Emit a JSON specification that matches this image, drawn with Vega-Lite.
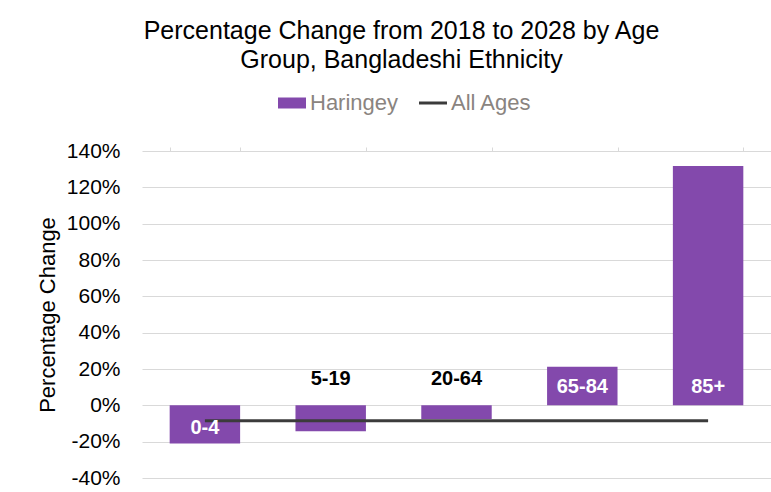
{
  "$schema": "https://vega.github.io/schema/vega-lite/v6.json",
  "width": 629,
  "height": 327,
  "autosize": {"type": "none"},
  "padding": {"left": 142, "top": 151, "right": 0, "bottom": 14},
  "background": "white",
  "config": {"view": {"stroke": null}, "font": "Liberation Sans"},
  "title": {
    "text": ["Percentage Change from 2018 to 2028 by Age", "Group, Bangladeshi Ethnicity"],
    "fontSize": 25,
    "fontWeight": "normal",
    "color": "#000000",
    "font": "Liberation Sans",
    "anchor": "middle",
    "dx": -55,
    "offset": 19,
    "lineHeight": 29
  },
  "data": {
    "values": [
      {"age": "0-4", "change": -0.21, "allAges": -0.085},
      {"age": "5-19", "change": -0.143, "allAges": -0.085},
      {"age": "20-64", "change": -0.075, "allAges": -0.085},
      {"age": "65-84", "change": 0.213, "allAges": -0.085},
      {"age": "85+", "change": 1.318, "allAges": -0.085}
    ]
  },
  "encoding": {
    "x": {
      "field": "age",
      "type": "nominal",
      "sort": null,
      "scale": {"paddingInner": 0.44, "paddingOuter": 0.22},
      "axis": {
        "orient": "top",
        "labels": false,
        "title": null,
        "domain": false,
        "ticks": true,
        "tickColor": "#d9d9d9",
        "tickSize": 4,
        "tickBand": "extent",
        "grid": false
      }
    }
  },
  "layer": [
    {
      "mark": {"type": "bar"},
      "encoding": {
        "y": {
          "field": "change",
          "type": "quantitative",
          "title": "Percentage Change",
          "scale": {"domain": [-0.4, 1.4], "nice": false},
          "axis": {
            "labelExpr": "replace(format(datum.value, '.0%'), '\u2212', '-')",
            "values": [-0.4, -0.2, 0, 0.2, 0.4, 0.6, 0.8, 1.0, 1.2, 1.4],
            "tickCount": 10,
            "labelOverlap": false,
            "grid": true,
            "gridColor": "#d9d9d9",
            "gridWidth": 1,
            "domain": false,
            "ticks": false,
            "labelPadding": 22,
            "labelFontSize": 21,
            "labelColor": "#000000",
            "titleFontSize": 22,
            "titleFontWeight": "normal",
            "titleColor": "#000000",
            "titlePadding": 7
          }
        },
        "color": {
          "datum": "Haringey",
          "type": "nominal",
          "scale": {"domain": ["Haringey", "All Ages"], "range": ["#8349AC", "#3b3b3b"]},
          "legend": {
            "orient": "none",
            "legendX": 139,
            "legendY": -59,
            "direction": "horizontal",
            "title": null,
            "padding": 0,
            "labelFontSize": 22,
            "labelColor": "#8a8480",
            "labelFont": "Liberation Sans",
            "symbolSize": 400,
            "labelOffset": 7,
            "columnPadding": 14,
            "encode": {
              "symbols": {
                "update": {
                  "shape": {"signal": "datum.value === 'Haringey' ? 'M-1.4,-0.55H1.4V0.55H-1.4Z' : 'M-1.4,0H1.4'"},
                  "fill": {"signal": "datum.value === 'Haringey' ? '#8349AC' : 'transparent'"},
                  "stroke": {"signal": "datum.value === 'Haringey' ? '#8349AC' : '#3b3b3b'"},
                  "strokeWidth": {"signal": "datum.value === 'Haringey' ? 0 : 3"},
                  "opacity": {"value": 1}
                }
              }
            }
          }
        }
      }
    },
    {
      "mark": {"type": "line", "strokeWidth": 3},
      "encoding": {
        "y": {
          "field": "allAges",
          "type": "quantitative",
          "title": "Percentage Change",
          "axis": {
            "labelExpr": "replace(format(datum.value, '.0%'), '\u2212', '-')",
            "values": [-0.4, -0.2, 0, 0.2, 0.4, 0.6, 0.8, 1.0, 1.2, 1.4],
            "tickCount": 10,
            "labelOverlap": false,
            "grid": true,
            "gridColor": "#d9d9d9",
            "gridWidth": 1,
            "domain": false,
            "ticks": false,
            "labelPadding": 22,
            "labelFontSize": 21,
            "labelColor": "#000000",
            "titleFontSize": 22,
            "titleFontWeight": "normal",
            "titleColor": "#000000",
            "titlePadding": 7
          }
        },
        "color": {"datum": "All Ages", "type": "nominal"}
      }
    },
    {
      "transform": [{"filter": "datum.age === '0-4'"}],
      "mark": {"type": "text", "fontWeight": "bold", "fontSize": 20, "color": "#ffffff", "font": "Liberation Sans"},
      "encoding": {
        "y": {"datum": -0.125, "type": "quantitative", "title": "Percentage Change"},
        "text": {"field": "age"}
      }
    },
    {
      "transform": [{"filter": "datum.age === '5-19' || datum.age === '20-64'"}],
      "mark": {"type": "text", "fontWeight": "bold", "fontSize": 20, "color": "#000000", "font": "Liberation Sans"},
      "encoding": {
        "y": {"datum": 0.143, "type": "quantitative", "title": "Percentage Change"},
        "text": {"field": "age"}
      }
    },
    {
      "transform": [{"filter": "datum.age === '65-84' || datum.age === '85+'"}],
      "mark": {"type": "text", "fontWeight": "bold", "fontSize": 20, "color": "#ffffff", "font": "Liberation Sans"},
      "encoding": {
        "y": {"datum": 0.099, "type": "quantitative", "title": "Percentage Change"},
        "text": {"field": "age"}
      }
    }
  ]
}
